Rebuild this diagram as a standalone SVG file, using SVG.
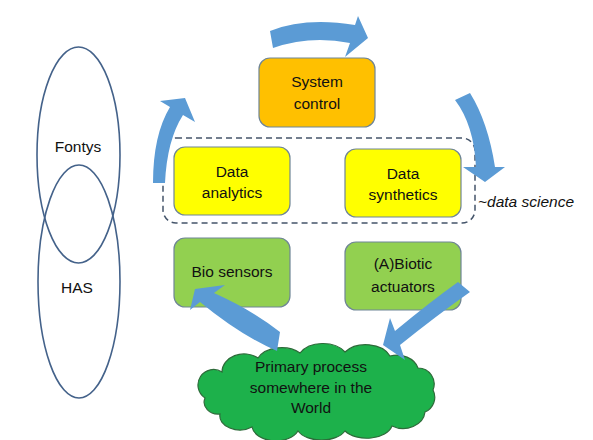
<svg xmlns="http://www.w3.org/2000/svg" width="593" height="440" viewBox="0 0 593 440">
<style>
text{font-family:"Liberation Sans",Arial,sans-serif;font-size:15.5px;fill:#111;text-anchor:middle}
.box{stroke:#6f8596;stroke-width:1.2}
.arrow{fill:#5B9BD5;stroke:none}
.venn{fill:none;stroke:#44628A;stroke-width:1.6}
</style>
<rect width="593" height="440" fill="#fff"/>
<g id="venn">
<ellipse class="venn" cx="78.5" cy="155" rx="41.5" ry="108"/>
<ellipse class="venn" cx="79" cy="281.5" rx="41" ry="116.5"/>
<text x="78" y="152">Fontys</text>
<text x="77" y="293">HAS</text>
</g>
<g id="data-science-group">
<rect x="163" y="138" width="312" height="85" rx="13" fill="none" stroke="#44546A" stroke-width="1.5" stroke-dasharray="6 4"/>
<text x="478" y="207" style="text-anchor:start;font-style:italic">~data science</text>
</g>
<g id="system-control">
<rect class="box" x="259" y="58" width="116" height="69" rx="11" fill="#FFC000"/>
<text x="317" y="87">System</text>
<text x="317" y="109">control</text>
</g>
<g id="data-analytics">
<rect class="box" x="174" y="147" width="116" height="68" rx="11" fill="#FFFF00"/>
<text x="232" y="177">Data</text>
<text x="232" y="198">analytics</text>
</g>
<g id="data-synthetics">
<rect class="box" x="345" y="149" width="116" height="68" rx="11" fill="#FFFF00"/>
<text x="403" y="179">Data</text>
<text x="403" y="200">synthetics</text>
</g>
<g id="bio-sensors">
<rect class="box" x="174" y="238" width="116" height="69" rx="11" fill="#92D050"/>
<text x="232" y="277">Bio sensors</text>
</g>
<g id="biotic-actuators">
<rect class="box" x="345" y="242" width="116" height="68" rx="11" fill="#92D050"/>
<text x="403" y="269">(A)Biotic</text>
<text x="403" y="292">actuators</text>
</g>
<g id="primary-process">
<path d="M205,398 A14,14 0 0 1 222,372 A22,18 0 0 1 258,358 A26,18 0 0 1 300,353 A26,18 0 0 1 345,352 A26,18 0 0 1 390,356 A22,18 0 0 1 418,368 A16,16 0 0 1 433,390 A16,16 0 0 1 425,412 A22,18 0 0 1 392,426 A26,16 0 0 1 345,431 A26,16 0 0 1 298,431 A24,16 0 0 1 252,427 A20,14 0 0 1 220,414 A14,12 0 0 1 205,398 Z" fill="#1DB14B" stroke="#2E6B3A" stroke-width="1.2"/>
<text x="311" y="372">Primary process</text>
<text x="311" y="393">somewhere in the</text>
<text x="311" y="413">World</text>
</g>
<g id="connectors">
<path class="arrow" d="M270,31 Q305,17 355,25 L358,16 L368,38 L345,57 L350,43 Q310,35 273,48 Z"/>
<path class="arrow" d="M470,93 Q488,122 495,167 L505,167 L485,182 L463,167 L476,167 Q474,125 455,100 Z"/>
<path class="arrow" d="M458,282 Q430,302 395,331 L390,318 L383,345 L405,360 L400,345 Q436,316 470,292 Z"/>
<path class="arrow" d="M280,332 Q252,310 214,293 L225,285 L195,289 L190,310 L200,302 Q240,335 277,351 Z"/>
<path class="arrow" d="M153,183 Q153,135 170,107 L160,101 L185,98 L195,122 L183,115 Q167,140 165,183 Z"/>
</g>
</svg>
